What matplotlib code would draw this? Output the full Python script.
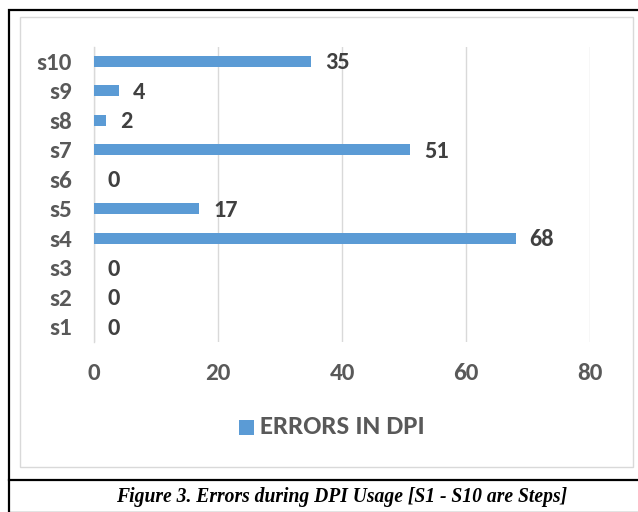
import matplotlib
matplotlib.use("Agg")
import matplotlib.pyplot as plt
from matplotlib.patches import Rectangle
from matplotlib.lines import Line2D
from matplotlib import font_manager

steps = ["s1", "s2", "s3", "s4", "s5", "s6", "s7", "s8", "s9", "s10"]
errors = [0, 0, 0, 68, 17, 0, 51, 2, 4, 35]
x_ticks = [0, 20, 40, 60, 80]
series_name = "ERRORS IN DPI"
caption = "Figure 3. Errors during DPI Usage [S1 - S10 are Steps]"

W, H = 638, 512
fig = plt.figure(figsize=(W / 100, H / 100), dpi=100)
fig.patch.set_facecolor("white")

installed = {f.name for f in font_manager.fontManager.ttflist}
font = [f for f in ["Carlito", "Roboto", "DejaVu Sans"] if f in installed]


def fx(px):
    return px / W


def fy(py):
    return 1 - py / H


# outer frame and caption separator
fig.patches.append(Rectangle((fx(9), fy(513)), fx(640) - fx(9), fy(10) - fy(513),
                             transform=fig.transFigure, fill=False,
                             edgecolor="black", linewidth=1.6))
fig.lines.append(Line2D([fx(9), fx(640)], [fy(480), fy(480)],
                        transform=fig.transFigure, color="black", linewidth=1.6))
# chart area border
fig.patches.append(Rectangle((fx(20), fy(467)), fx(633) - fx(20), fy(17) - fy(467),
                             transform=fig.transFigure, fill=False,
                             edgecolor="#D9D9D9", linewidth=1.0))

ax = fig.add_axes([fx(94), fy(341.5), fx(590) - fx(94), fy(46.5) - fy(341.5)])
bar_color = "#5B9BD5"

ypos = list(range(len(steps)))
ax.barh(ypos, errors, height=0.36, color=bar_color, zorder=3)
for y, v in zip(ypos, errors):
    ax.annotate(str(v), (v, y), xytext=(14, -1.5), textcoords="offset pixels",
                ha="left", va="center", fontsize=17.5, fontweight="bold",
                color="#404040", family=font)

ax.set_xlim(0, 80)
ax.set_ylim(-0.5, len(steps) - 0.5)
ax.set_xticks(x_ticks)
ax.set_xticklabels([str(t) for t in x_ticks])
ax.set_yticks(ypos)
ax.set_yticklabels(steps)
for lab in ax.get_xticklabels() + ax.get_yticklabels():
    lab.set_fontsize(18)
    lab.set_fontweight("bold")
    lab.set_color("#595959")
    lab.set_family(font)
ax.tick_params(axis="both", length=0)
ax.tick_params(axis="x", pad=15.5)
ax.tick_params(axis="y", pad=16)
ax.grid(axis="x", color="#D9D9D9", linewidth=1.0, zorder=0)
for s in ["top", "right", "bottom"]:
    ax.spines[s].set_visible(False)
ax.spines["left"].set_color("#D9D9D9")
ax.spines["left"].set_linewidth(1.0)

# legend
fig.patches.append(Rectangle((fx(239), fy(435)), fx(254) - fx(239), fy(420) - fy(435),
                             transform=fig.transFigure, facecolor=bar_color,
                             edgecolor="none"))
fig.text(fx(260), fy(427), series_name, ha="left", va="center", fontsize=19.4,
         fontweight="bold", color="#595959", family=font)

fig.text(fx(342), fy(497), caption, ha="center", va="center", fontsize=14.1,
         fontweight="bold", style="italic", family=["Liberation Serif", "DejaVu Serif"])

fig.savefig("out.png", dpi=100)
